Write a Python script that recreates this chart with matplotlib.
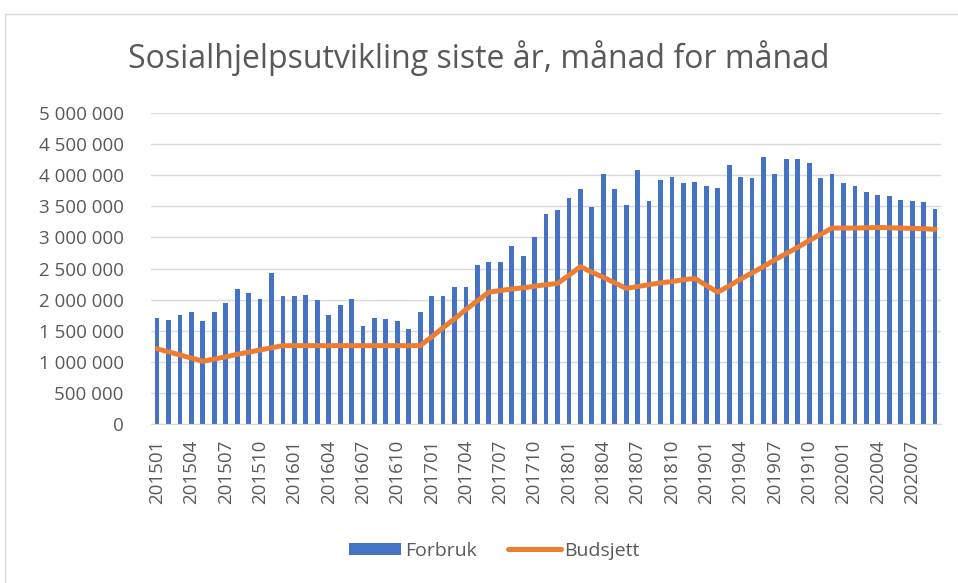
import numpy as np
import matplotlib
matplotlib.use("Agg")
import matplotlib.pyplot as plt
from matplotlib.patches import Rectangle
from matplotlib.ticker import FuncFormatter

# months 201501 .. 202009
years = [2015] * 12 + [2016] * 12 + [2017] * 12 + [2018] * 12 + [2019] * 12 + [2020] * 9
months = list(range(1, 13)) * 5 + list(range(1, 10))
labels = [f"{y}{m:02d}" for y, m in zip(years, months)]

# Forbruk (million NOK)
forbruk = [1.71, 1.68, 1.75, 1.80, 1.65, 1.80, 1.95, 2.17, 2.11, 2.01, 2.42, 2.06,
           2.06, 2.07, 1.99, 1.76, 1.92, 2.005, 1.575, 1.70, 1.69, 1.66, 1.52, 1.80,
           2.05, 2.05, 2.21, 2.21, 2.56, 2.60, 2.60, 2.86, 2.70, 3.01, 3.37, 3.44,
           3.64, 3.77, 3.49, 4.02, 3.78, 3.52, 4.09, 3.59, 3.93, 3.97, 3.87, 3.89,
           3.82, 3.79, 4.16, 3.97, 3.95, 4.29, 4.02, 4.26, 4.26, 4.20, 3.96, 4.02,
           3.88, 3.82, 3.73, 3.68, 3.66, 3.60, 3.58, 3.57, 3.45]

# Budsjett (million NOK)
budsjett = [1.21, 1.16, 1.11, 1.06, 1.01, 1.045, 1.08, 1.12, 1.155, 1.19, 1.225, 1.26,
            1.26, 1.26, 1.26, 1.26, 1.26, 1.26, 1.26, 1.26, 1.26, 1.26, 1.26, 1.26,
            1.40, 1.55, 1.69, 1.84, 1.98, 2.12, 2.145, 2.17, 2.19, 2.215, 2.24, 2.26,
            2.39, 2.53, 2.44, 2.36, 2.27, 2.18, 2.21, 2.24, 2.27, 2.29, 2.32, 2.34,
            2.23, 2.12, 2.22, 2.33, 2.43, 2.53, 2.64, 2.74, 2.84, 2.95, 3.05, 3.15,
            3.15, 3.15, 3.155, 3.16, 3.155, 3.15, 3.145, 3.14, 3.13]

forbruk = np.array(forbruk) * 1e6
budsjett = np.array(budsjett) * 1e6
x = np.arange(len(labels))

txt = "#595959"
plt.rcParams['font.family'] = ['Open Sans', 'DejaVu Sans']

fig = plt.figure(figsize=(9.58, 5.83), dpi=100)
fig.patches.append(Rectangle((5 / 958, -0.01), 1.02, 1 - 14 / 583 + 0.01, transform=fig.transFigure,
                             fill=False, edgecolor="#d9d9d9", linewidth=1))
ax = fig.add_axes([0.158, 0.2727, 0.824, 0.5335])

bars = ax.bar(x, forbruk, width=0.42, color="#4472C4", label="Forbruk", zorder=2)
line, = ax.plot(x, budsjett, color="#ED7D31", linewidth=3.6, solid_capstyle="round",
                solid_joinstyle="round", label="Budsjett", zorder=3)

ax.set_xlim(-0.5, len(labels) - 0.5)
ax.set_ylim(0, 5e6)
ax.set_yticks(np.arange(0, 5.0e6 + 1, 5e5))
ax.yaxis.set_major_formatter(FuncFormatter(lambda v, p: f"{int(v):,}".replace(",", " ")))
ax.set_xticks(x[::3])
ax.set_xticklabels(labels[::3], rotation=90)
ax.grid(axis="y", color="#d9d9d9", linewidth=1, zorder=0)
ax.set_axisbelow(True)
for s in ["top", "right", "left"]:
    ax.spines[s].set_visible(False)
ax.spines["bottom"].set_color("#d9d9d9")
ax.tick_params(length=0, labelsize=13.5, colors=txt)
ax.tick_params(axis="y", pad=20)
ax.tick_params(axis="x", pad=11)

fig.text(0.5, 0.9, "Sosialhjelpsutvikling siste år, månad for månad", ha="center", va="center",
         fontsize=23, color=txt)
fig.legend([bars, line], ["Forbruk", "Budsjett"], loc="center", bbox_to_anchor=(0.516, 0.055),
           ncol=2, frameon=False, fontsize=14, labelcolor=txt, handlelength=2.7,
           handleheight=0.6, columnspacing=1.6, handletextpad=0.2)

fig.savefig("out.png", dpi=100)
